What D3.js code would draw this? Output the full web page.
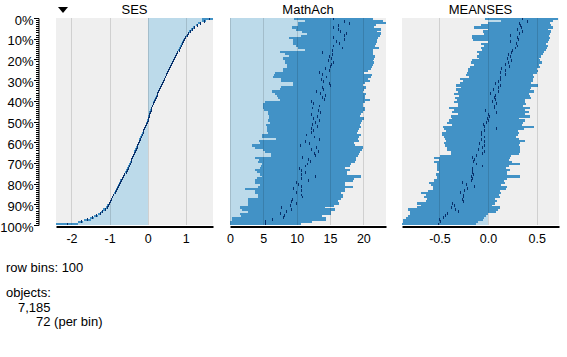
<!DOCTYPE html>
<html><head><meta charset="utf-8">
<script src="https://cdn.jsdelivr.net/npm/d3@7"></script>
<style>
body{margin:0;background:#fff;}
svg{display:block;font-family:Arial,"Liberation Sans",sans-serif;}
</style></head>
<body><svg id="c" width="567" height="357"></svg>
<script>
// ---- data (100 row bins, sorted by SES descending) ----
const columns = ["SES", "MathAch", "MEANSES"];
const percentTicks = [0,10,20,30,40,50,60,70,80,90,100];
const sesTicks = [-2,-1,0,1];
const mathTicks = [0,5,10,15,20];
const meansesTicks = [-0.5,0,0.5];
const rowBins = 100, objects = 7185, perBin = 72;

const sesMean = [1.60,1.47,1.37,1.29,1.22,1.16,1.11,1.07,1.03,0.99,
0.955,0.925,0.895,0.865,0.837,0.81,0.782,0.755,0.727,0.70,
0.67,0.645,0.62,0.593,0.567,0.54,0.515,0.49,0.463,0.437,
0.41,0.385,0.36,0.333,0.307,0.28,0.257,0.233,0.21,0.188,
0.166,0.144,0.122,0.10,0.08,0.06,0.045,0.03,0.015,0.0,
-0.02,-0.04,-0.06,-0.09,-0.115,-0.135,-0.155,-0.175,-0.2,-0.225,
-0.25,-0.27,-0.29,-0.31,-0.335,-0.355,-0.38,-0.405,-0.43,-0.45,
-0.475,-0.5,-0.525,-0.55,-0.58,-0.61,-0.64,-0.67,-0.70,-0.73,
-0.755,-0.78,-0.81,-0.84,-0.87,-0.9,-0.925,-0.95,-0.98,-1.01,
-1.04,-1.08,-1.13,-1.2,-1.26,-1.35,-1.46,-1.58,-1.76,-2.13];
const sesLo = [1.42,1.42,1.33,1.26,1.19,1.13,1.09,1.05,1.01,0.97,
0.94,0.91,0.88,0.85,0.82,0.795,0.767,0.74,0.712,0.685,
0.655,0.63,0.605,0.578,0.552,0.525,0.50,0.475,0.448,0.422,
0.395,0.37,0.345,0.318,0.292,0.265,0.242,0.218,0.195,0.173,
0.151,0.129,0.107,0.085,0.065,0.045,0.03,0.015,0.0,-0.015,
-0.035,-0.055,-0.075,-0.105,-0.13,-0.15,-0.17,-0.19,-0.215,-0.24,
-0.265,-0.285,-0.305,-0.325,-0.35,-0.37,-0.395,-0.42,-0.445,-0.465,
-0.49,-0.515,-0.54,-0.565,-0.595,-0.625,-0.655,-0.685,-0.715,-0.745,
-0.77,-0.795,-0.825,-0.855,-0.885,-0.915,-0.94,-0.965,-0.995,-1.025,
-1.06,-1.10,-1.16,-1.23,-1.30,-1.40,-1.52,-1.66,-1.83,-2.42];
const sesHi = [1.72,1.52,1.41,1.33,1.25,1.19,1.13,1.09,1.05,1.01,
0.97,0.94,0.91,0.88,0.852,0.825,0.797,0.77,0.742,0.715,
0.685,0.66,0.635,0.608,0.582,0.555,0.53,0.505,0.478,0.452,
0.425,0.40,0.375,0.348,0.322,0.295,0.272,0.248,0.225,0.203,
0.181,0.159,0.137,0.115,0.095,0.075,0.06,0.045,0.03,0.015,
-0.005,-0.025,-0.045,-0.075,-0.10,-0.12,-0.14,-0.16,-0.185,-0.21,
-0.235,-0.255,-0.275,-0.295,-0.32,-0.34,-0.365,-0.39,-0.415,-0.435,
-0.46,-0.485,-0.51,-0.535,-0.565,-0.595,-0.625,-0.655,-0.685,-0.715,
-0.74,-0.765,-0.795,-0.825,-0.855,-0.885,-0.91,-0.935,-0.965,-0.995,
-1.02,-1.06,-1.10,-1.17,-1.22,-1.30,-1.40,-1.50,-1.70,-1.83];

const mathMean = [15.5,17.15,17.9,16.25,15.5,16.25,16.55,17.45,17.15,15.5,
17.15,15.95,16.4,15.5,16.85,15.35,13.85,15.35,14.9,15.2,
14.7,15.5,15.2,15.05,14.3,14.9,13.4,13.85,14.4,13.7,
14.0,14.9,15.05,13.85,14.0,12.95,13.55,14.2,13.85,14.1,
12.2,12.45,13.4,12.35,13.2,13.55,12.2,13.1,12.5,13.4,
12.8,12.35,13.0,12.2,12.5,12.2,11.45,12.65,13.4,11.3,
11.85,10.55,12.95,12.2,13.2,12.65,12.7,10.8,11.7,12.05,
11.6,11.3,10.4,10.6,11.3,10.6,12.8,10.7,11.7,9.95,
10.2,10.7,9.5,10.7,9.95,10.7,10.8,9.35,9.2,9.95,
9.05,7.7,9.2,8.45,7.55,8.1,7.95,6.3,5.3,5.3];
const mathLo = [9.6,11.25,10.2,10.2,9.3,9.95,10.8,11.5,10.7,8.85,
9.5,9.5,9.5,9.95,10.2,11.3,7.5,8.2,8.85,7.95,
8.2,8.3,8.6,8.6,7.95,7.95,6.75,6.55,6.45,7.7,
7.7,9.45,9.45,7.7,7.45,6.3,6.7,7.1,7.2,7.45,
5.2,4.95,4.95,4.95,5.1,5.7,5.7,5.8,5.8,5.7,
5.95,5.45,5.6,5.6,5.6,5.7,4.8,4.8,6.95,4.35,
4.45,3.3,3.7,4.95,5.2,6.2,6.1,3.7,4.3,4.2,
4.8,4.7,4.45,3.7,4.1,4.45,4.8,4.1,3.8,3.8,
4.45,4.2,2.3,3.8,3.8,4.2,4.2,2.7,2.7,2.7,
2.7,1.5,1.8,2.7,1.5,1.7,0.3,0.3,0,0];
const mathHi = [21.45,22.95,23.4,21.95,21.55,22.65,22.05,22.7,22.5,22.25,
22.05,22.1,21.95,21.7,22.3,21.5,21.4,21.5,21.75,21.6,
21.5,21.6,21.5,21.3,21.1,20.7,20.1,21.3,21.1,20.7,
20.95,20.2,19.95,20.35,20.1,19.95,20.45,20.3,20.3,20.95,
20.2,19.95,19.95,20.2,20.2,19.95,19.7,19.45,20.1,19.8,
19.7,19.45,19.6,19.3,19.2,19.1,19.6,19.3,19.2,19.35,
18.6,18.8,19.95,19.8,19.45,19.3,19.2,18.9,18.9,18.8,
18.1,18.05,17.2,18.0,17.6,17.6,19.6,18.55,18.45,17.3,
17.2,18.4,17.2,17.2,16.6,16.95,16.95,16.7,16.2,16.35,
15.6,14.2,15.7,15.2,15.2,13.8,14.35,14.35,12.3,10.7];

const meansesMean = [0.35,0.40,0.32,0.33,0.34,0.30,0.35,0.32,0.23,0.30,
0.31,0.23,0.29,0.30,0.28,0.25,0.24,0.21,0.23,0.19,
0.24,0.21,0.17,0.22,0.13,0.17,0.12,0.17,0.12,0.12,
0.10,0.07,0.12,0.10,0.05,0.10,0.02,0.07,0.06,0.07,
0.04,0.08,0.06,0.06,-0.03,0.08,0.00,0.01,-0.01,0.00,
-0.02,-0.05,-0.04,0.08,-0.04,-0.07,-0.07,-0.04,-0.07,-0.04,
-0.09,-0.04,-0.06,-0.10,-0.04,-0.06,-0.12,-0.16,-0.14,-0.15,
-0.12,-0.06,-0.17,-0.16,-0.17,-0.15,-0.18,-0.16,-0.18,-0.27,
-0.23,-0.14,-0.22,-0.25,-0.29,-0.26,-0.26,-0.27,-0.26,-0.37,
-0.35,-0.38,-0.34,-0.31,-0.42,-0.44,-0.46,-0.50,-0.49,-0.51];
const meansesLo = [-0.03,0.13,0.00,-0.07,-0.14,0.00,-0.05,-0.04,-0.17,-0.17,
-0.15,0.00,-0.07,-0.04,-0.07,-0.06,-0.11,-0.09,-0.11,-0.09,
-0.17,-0.18,-0.14,-0.19,-0.21,-0.21,-0.22,-0.23,-0.20,-0.29,
-0.26,-0.29,-0.33,-0.28,-0.33,-0.31,-0.35,-0.30,-0.34,-0.32,
-0.35,-0.31,-0.31,-0.40,-0.35,-0.37,-0.31,-0.38,-0.37,-0.40,
-0.42,-0.37,-0.46,-0.45,-0.43,-0.47,-0.47,-0.45,-0.44,-0.43,
-0.45,-0.44,-0.42,-0.42,-0.38,-0.38,-0.49,-0.56,-0.50,-0.56,
-0.52,-0.53,-0.52,-0.52,-0.50,-0.54,-0.53,-0.52,-0.56,-0.61,
-0.59,-0.57,-0.57,-0.62,-0.69,-0.64,-0.66,-0.63,-0.64,-0.73,
-0.69,-0.73,-0.82,-0.80,-0.80,-0.82,-0.84,-0.87,-0.87,-0.89];
const meansesHi = [0.72,0.67,0.64,0.65,0.67,0.62,0.65,0.64,0.63,0.64,
0.63,0.62,0.60,0.62,0.61,0.60,0.58,0.57,0.54,0.52,
0.53,0.55,0.52,0.53,0.50,0.51,0.50,0.46,0.47,0.46,
0.46,0.44,0.51,0.44,0.43,0.47,0.42,0.43,0.44,0.38,
0.38,0.39,0.36,0.43,0.38,0.42,0.38,0.43,0.32,0.38,
0.36,0.35,0.47,0.37,0.31,0.32,0.31,0.29,0.32,0.38,
0.33,0.32,0.33,0.33,0.33,0.32,0.24,0.23,0.22,0.25,
0.33,0.22,0.18,0.23,0.19,0.19,0.33,0.19,0.16,0.17,
0.13,0.20,0.18,0.12,0.13,0.11,0.12,0.07,0.09,0.07,
0.04,0.12,0.10,0.08,0.00,-0.02,-0.04,-0.05,-0.10,-0.12];

// ---- layout ----
const svg = d3.select("#c");
const yTop = 18, yBottom = 225;
const y = d3.scaleLinear().domain([0, rowBins]).range([yTop, yBottom]);
const rowH = y(1) - y(0);

const panels = [
  {name: columns[0], x0: 56, x1: 213, domain: [-2.406, 1.715], mean: sesMean, lo: sesLo, hi: sesHi,
   ticks: sesTicks, fmt: d => String(d)},
  {name: columns[1], x0: 230, x1: 386, domain: [0, 23.4], mean: mathMean, lo: mathLo, hi: mathHi,
   ticks: mathTicks, fmt: d => String(d)},
  {name: columns[2], x0: 402, x1: 559, domain: [-0.885, 0.73], mean: meansesMean, lo: meansesLo, hi: meansesHi,
   ticks: meansesTicks, fmt: d => d.toFixed(1)}
];

const cBg = "#efefef", cLight = "#bcdaea", cDark = "#4292c6", cNavy = "#08306b";

panels.forEach(p => {
  const x = d3.scaleLinear().domain(p.domain).range([p.x0, p.x1]).clamp(true);
  const g = svg.append("g");
  g.append("rect").attr("x", p.x0).attr("y", yTop).attr("width", p.x1 - p.x0).attr("height", yBottom - yTop).attr("fill", cBg);
  const rows = d3.range(rowBins);
  // light bar: from 0 to mean
  g.append("g").attr("shape-rendering", "crispEdges").selectAll("rect").data(rows).join("rect")
    .attr("x", i => Math.min(x(0), x(p.mean[i])))
    .attr("width", i => Math.abs(x(p.mean[i]) - x(0)))
    .attr("y", i => y(i)).attr("height", rowH + 0.2)
    .attr("fill", cLight);
  // dark bar: spread
  g.append("g").attr("shape-rendering", "crispEdges").selectAll("rect").data(rows).join("rect")
    .attr("x", i => x(p.lo[i]))
    .attr("width", i => Math.max(1, x(p.hi[i]) - x(p.lo[i])))
    .attr("y", i => y(i)).attr("height", rowH + 0.2)
    .attr("fill", cDark);
  // grid lines
  g.append("g").selectAll("line").data(p.ticks).join("line")
    .attr("x1", d => Math.round(x(d)) + 0.5).attr("x2", d => Math.round(x(d)) + 0.5)
    .attr("y1", yTop).attr("y2", yBottom)
    .attr("stroke", "rgba(0,0,0,0.13)").attr("stroke-width", 1);
  // mean ticks
  g.append("g").attr("shape-rendering", "crispEdges").selectAll("rect").data(rows).join("rect")
    .attr("x", i => Math.round(x(p.mean[i])))
    .attr("width", 1)
    .attr("y", i => y(i) - 0.4).attr("height", rowH + 0.8)
    .attr("fill", cNavy);
  // title
  svg.append("text").attr("x", (p.x0 + p.x1) / 2).attr("y", 13.5)
    .attr("text-anchor", "middle").attr("font-size", 13).attr("fill", "#000").text(p.name);
  // x axis
  const ax = svg.append("g").attr("transform", "translate(0,226.5)")
    .call(d3.axisBottom(x).tickValues(p.ticks).tickFormat(p.fmt).tickSize(0).tickSizeOuter(0).tickPadding(8));
  ax.select(".domain").attr("stroke", "#000").attr("stroke-width", 2);
  ax.selectAll("text").attr("font-size", 12.5).attr("fill", "#000").attr("font-family", "Arial, 'Liberation Sans', sans-serif");
});

// sort indicator triangle
svg.append("path").attr("d", "M58,7L68,7L63,13Z").attr("fill", "#000");

// y ruler
const yAxisX = 38.5;
const minor = svg.append("g").attr("transform", `translate(${yAxisX},0)`)
  .call(d3.axisLeft(y).tickValues(d3.range(0, rowBins + 1)).tickSize(3).tickSizeOuter(0).tickFormat(""));
minor.select(".domain").attr("stroke", "#000");
minor.selectAll("line").attr("stroke", "#000").attr("shape-rendering", "crispEdges");
const major = svg.append("g").attr("transform", `translate(${yAxisX},0)`)
  .call(d3.axisLeft(y).tickValues(percentTicks).tickSize(5).tickSizeOuter(0).tickPadding(0).tickFormat(d => d + "%"));
major.select(".domain").remove();
major.selectAll("line").attr("stroke", "#000").attr("shape-rendering", "crispEdges");
major.selectAll("text").attr("font-size", 13).attr("fill", "#000").attr("dy", "6")
  .attr("font-family", "Arial, 'Liberation Sans', sans-serif");

// info text
const info = svg.append("g").attr("font-size", 13).attr("fill", "#000");
info.append("text").attr("x", 6).attr("y", 271.5).text("row bins: " + rowBins);
info.append("text").attr("x", 6).attr("y", 296.5).text("objects:");
info.append("text").attr("x", 18).attr("y", 311.5).text(d3.format(",")(objects));
info.append("text").attr("x", 36).attr("y", 326).text(perBin + " (per bin)");
</script></body></html>
